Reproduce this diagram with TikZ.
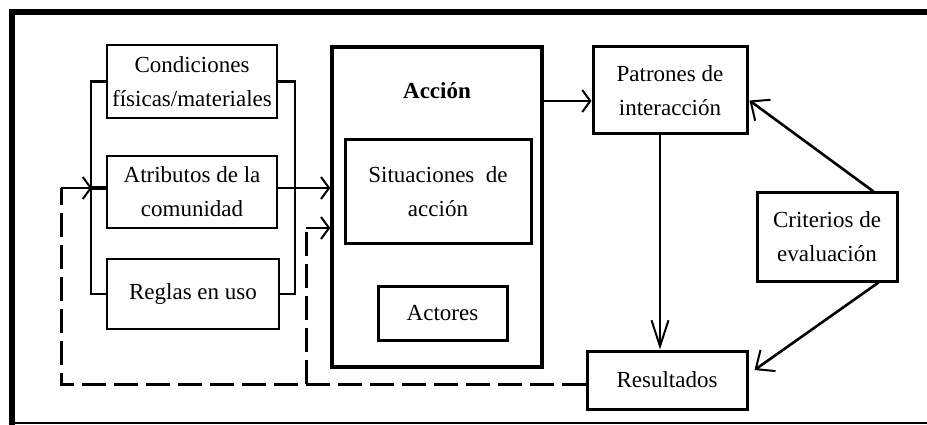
\documentclass[tikz,border=0pt]{standalone}
\usepackage{fontspec}
\setmainfont{Liberation Serif}
\usetikzlibrary{arrows.meta,calc}
\begin{document}
\begin{tikzpicture}[x=1pt,y=-1pt,
  lbl/.style={font=\fontsize{23}{34}\selectfont, align=center, inner sep=0pt},
  thinbox/.style={lbl, draw, line width=1.5pt},
  thickbox/.style={lbl, draw, line width=3pt},
  conn/.style={line width=2.6pt},
  dashline/.style={line width=3pt, dash pattern=on 24pt off 8pt},
  barb/.style={-{Straight Barb[length=8pt,width=22pt,line width=2pt]}},
  longbarb/.style={-{Straight Barb[length=26pt,width=17pt,line width=2pt]}},
  diagbarb/.style={-{Straight Barb[length=15pt,width=26pt,line width=2pt]}}]

% canvas and frame
\fill[white] (0,0) rectangle (927,425);
\useasboundingbox (0,0) rectangle (927,425);
\draw[line width=6pt] (9,12) -- (927,12);
\draw[line width=6pt] (12,9) -- (12,425);
\draw[line width=1.8pt] (12,423) -- (927,423);

% left column
\node[thinbox, minimum width=170pt, minimum height=73pt] (cond) at (192,81.5) {Condiciones\\físicas/materiales};
\node[thinbox, minimum width=170pt, minimum height=72pt] (atri) at (192,192) {Atributos de la\\comunidad};
\node[thinbox, minimum width=172pt, minimum height=70pt] (regl) at (193,294) {Reglas en uso};

% action arena
\node[draw, line width=3.5pt, minimum width=210pt, minimum height=320pt, inner sep=0pt] (acc) at (437,207) {};
\node[lbl, font=\fontsize{23}{34}\selectfont\bfseries] (acct) at (437,91) {Acción};
\node[thickbox, minimum width=186pt, minimum height=103pt] (sit) at (438,191.5) {Situaciones\ \ de\\acción};
\node[thickbox, minimum width=129pt, minimum height=54pt] (act) at (442.5,313) {Actores};

% right column
\node[thickbox, minimum width=154pt, minimum height=87pt] (pat) at (670,90.5) {Patrones de\\interacción};
\node[thickbox, minimum width=160pt, minimum height=58pt] (res) at (667,380) {Resultados};
\node[thickbox, minimum width=140pt, minimum height=88pt] (crit) at (827,237) {Criterios de\\evaluación};

% helper coordinates
\coordinate (bl) at (91,0);
\coordinate (br) at (295,0);
\coordinate (yatr) at (0,188);
\coordinate (yfb) at (0,228);
\coordinate (dl) at (61,384);
\coordinate (dm) at (306,384);
\coordinate (yap) at (0,101);
\coordinate (xpr) at (660,0);

% brackets around the left column
\draw[conn] (cond.west) -| (bl |- regl.west) -- (regl.west);
\draw[conn] (cond.east) -| (br |- regl.east) -- (regl.east);
\draw[line width=4.5pt] (bl |- yatr) -- (atri.west |- yatr);

% column into the action arena
\draw[conn, barb] (atri.east |- yatr) -- (acc.west |- yatr);

% action to interaction patterns to outcomes
\draw[conn, barb] (acc.east |- yap) -- (pat.west |- yap);
\draw[conn, longbarb] (xpr |- pat.south) -- (xpr |- res.north);

% evaluative criteria
\draw[conn, diagbarb] ($(crit.north east)+(-25,0)$) -- ($(pat.east)+(1,10)$);
\draw[conn, diagbarb] ($(crit.south east)+(-20,0)$) -- ($(res.east)+(6,-10)$);

% feedback from outcomes
\draw[dashline] (res.west |- dl) -- (dl) -- (dl |- yatr);
\draw[conn, barb] (dl |- yatr) -- ($(bl |- yatr)+(1,0)$);
\draw[dashline] (dm) -- (dm |- yfb);
\draw[conn, barb] (dm |- yfb) -- (acc.west |- yfb);
\end{tikzpicture}
\end{document}
